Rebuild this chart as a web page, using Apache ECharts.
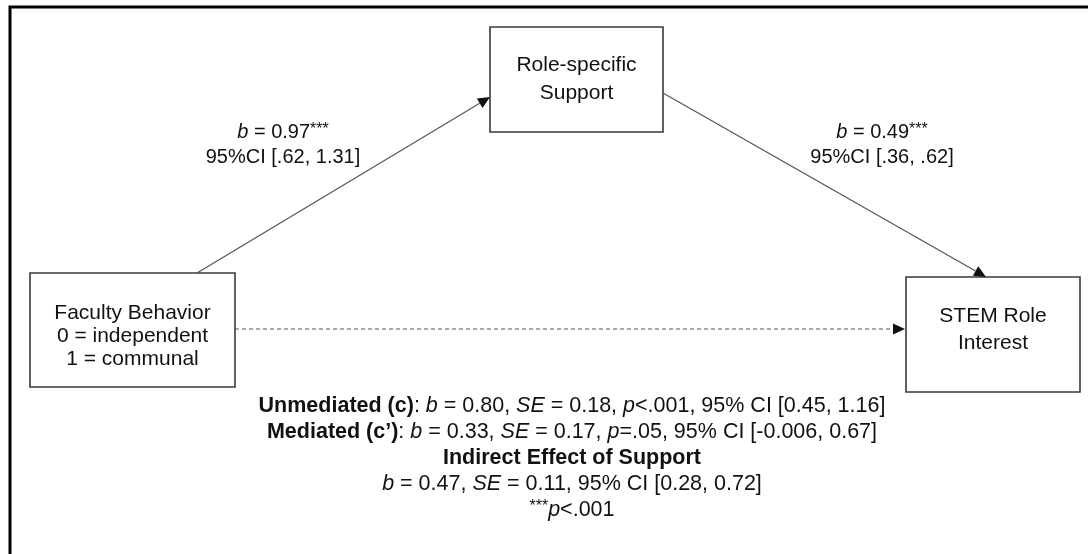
<!DOCTYPE html>
<html>
<head>
<meta charset="utf-8">
<script src="https://cdn.jsdelivr.net/npm/echarts@6/dist/echarts.min.js"></script>
<style>
  html, body { margin: 0; padding: 0; background: #fff; }
  #chart { width: 1088px; height: 554px; }
</style>
</head>
<body>
<div id="chart"></div>
<script>
// diagram units = one pixel of the 1088 x 554 figure
var boxLabels = [
  ["Faculty Behavior", "0 = independent", "1 = communal"],
  ["Role-specific", "Support"],
  ["STEM Role", "Interest"]
];
var boxLeft = [30, 490, 906];
var boxRight = [235, 663, 1080];
var boxTop = [273, 27, 277];
var boxBottom = [387, 132, 392];
var boxTextY = [313, 65, 316];
var boxTextGap = [23, 28, 27];

// paths: a (X -> M), b (M -> Y), c' (X -> Y, dashed)
var pathFrom = [[197, 273], [663, 93], [235, 329]];
var pathTo = [[490, 97], [986, 277], [905, 329]];
var pathDashed = [false, false, true];

// coefficient labels on the paths
var coefText = [
  ["{i|b} = 0.97{s|***}", "95%CI [.62, 1.31]"],
  ["{i|b} = 0.49{s|***}", "95%CI [.36, .62]"]
];
var coefAt = [[283, 132], [882, 132]];

var notes = [
  "{bd|Unmediated (c)}: {i|b} = 0.80, {i|SE} = 0.18, {i|p}<.001, 95% CI [0.45, 1.16]",
  "{bd|Mediated (c’)}: {i|b} = 0.33, {i|SE} = 0.17, {i|p}=.05, 95% CI [-0.006, 0.67]",
  "{bd|Indirect Effect of Support}",
  "{i|b} = 0.47, {i|SE} = 0.11, 95% CI [0.28, 0.72]",
  "{s|***}{i|p}<.001"
];
var notesX = 572;
var notesY = [406, 432, 458, 484, 510];

var FONT = '"Liberation Sans", Arial, Helvetica, sans-serif';
var INK = "#111";

function richFor(size) {
  return {
    i: { fontStyle: "italic", fontSize: size, fontFamily: FONT, fill: INK },
    bd: { fontWeight: "bold", fontSize: size, fontFamily: FONT, fill: INK },
    s: { fontSize: 16, fontFamily: FONT, fill: INK, verticalAlign: "top" }
  };
}

var chart = echarts.init(document.getElementById("chart"));

var option = {
  animation: false,
  backgroundColor: "#fff",
  grid: { left: 0, right: 0, top: 0, bottom: 0 },
  xAxis: { type: "value", min: 0, max: 1088, show: false },
  yAxis: { type: "value", min: 0, max: 554, inverse: true, show: false },
  series: [
    {
      // frame (top and left rule of the figure)
      type: "custom",
      data: [[10, 7]],
      renderItem: function (params, api) {
        var c = api.coord([api.value(0), api.value(1)]);
        var r = api.coord([1088, 554]);
        return {
          type: "polyline",
          shape: { points: [[c[0], r[1]], c, [r[0], c[1]]] },
          style: { stroke: "#000", lineWidth: 3, fill: null }
        };
      }
    },
    {
      // boxes
      type: "custom",
      data: boxLeft.map(function (x, i) {
        return [x, boxTop[i], boxRight[i], boxBottom[i]];
      }),
      renderItem: function (params, api) {
        var i = params.dataIndex;
        var p0 = api.coord([api.value(0), api.value(1)]);
        var p1 = api.coord([api.value(2), api.value(3)]);
        var cx = (p0[0] + p1[0]) / 2;
        var kids = [{
          type: "rect",
          shape: { x: p0[0], y: p0[1], width: p1[0] - p0[0], height: p1[1] - p0[1] },
          style: { fill: "#fff", stroke: "#3a3a3a", lineWidth: 1.6 }
        }];
        boxLabels[i].forEach(function (t, k) {
          var p = api.coord([0, boxTextY[i] + k * boxTextGap[i]]);
          kids.push({
            type: "text",
            x: cx,
            y: p[1],
            style: {
              text: t, fontSize: 21, fontFamily: FONT, fill: INK,
              align: "center", verticalAlign: "middle"
            }
          });
        });
        return { type: "group", children: kids };
      }
    },
    {
      // arrows
      type: "custom",
      data: pathFrom.map(function (p, i) {
        return [p[0], p[1], pathTo[i][0], pathTo[i][1]];
      }),
      renderItem: function (params, api) {
        var i = params.dataIndex;
        var a = api.coord([api.value(0), api.value(1)]);
        var b = api.coord([api.value(2), api.value(3)]);
        var dx = b[0] - a[0], dy = b[1] - a[1];
        var len = Math.sqrt(dx * dx + dy * dy);
        var ux = dx / len, uy = dy / len;
        var hl = 12, hw = 5.5;
        var base = [b[0] - ux * hl, b[1] - uy * hl];
        return {
          type: "group",
          children: [
            {
              type: "line",
              shape: { x1: a[0], y1: a[1], x2: base[0], y2: base[1] },
              style: {
                stroke: "#555", lineWidth: 1.2,
                lineDash: pathDashed[i] ? [4, 3] : null
              }
            },
            {
              type: "polygon",
              shape: {
                points: [
                  b,
                  [base[0] - uy * hw, base[1] + ux * hw],
                  [base[0] + uy * hw, base[1] - ux * hw]
                ]
              },
              style: { fill: "#111" }
            }
          ]
        };
      }
    },
    {
      // path coefficients
      type: "custom",
      data: coefAt,
      renderItem: function (params, api) {
        var i = params.dataIndex;
        var c = api.coord([api.value(0), api.value(1)]);
        return {
          type: "group",
          children: coefText[i].map(function (t, k) {
            return {
              type: "text",
              x: c[0],
              y: c[1] + k * 25,
              style: {
                text: t, rich: richFor(20), fontSize: 20, fontFamily: FONT, fill: INK,
                align: "center", verticalAlign: "middle"
              }
            };
          })
        };
      }
    },
    {
      // notes under the diagram
      type: "custom",
      data: notesY.map(function (y) { return [notesX, y]; }),
      renderItem: function (params, api) {
        var c = api.coord([api.value(0), api.value(1)]);
        return {
          type: "text",
          x: c[0],
          y: c[1],
          style: {
            text: notes[params.dataIndex], rich: richFor(21.5), fontSize: 21.5,
            fontFamily: FONT, fill: INK, align: "center", verticalAlign: "middle"
          }
        };
      }
    }
  ]
};

chart.setOption(option);
</script>
</body>
</html>
